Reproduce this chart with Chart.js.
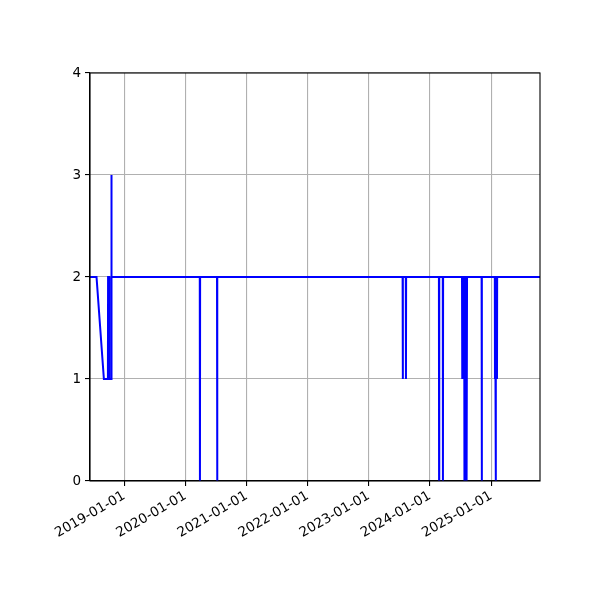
<!DOCTYPE html>
<html>
<head>
<meta charset="utf-8">
<script src="https://cdn.jsdelivr.net/npm/chart.js@4"></script>
<style>
html,body{margin:0;padding:0;background:#fff;}
#c{display:block;}
</style>
</head>
<body>
<canvas id="c" width="600" height="600"></canvas>
<script>
// ---- data ----
const dates = [
  '2018-06-10','2018-07-19','2018-09-01','2018-09-25','2018-09-26','2018-10-03','2018-10-04',
  '2018-10-15','2018-10-16','2018-10-17',
  '2020-03-27','2020-03-28','2020-03-29',
  '2020-07-08','2020-07-09','2020-07-10',
  '2023-07-22','2023-07-23','2023-07-24',
  '2023-08-10','2023-08-11','2023-08-12',
  '2024-02-24','2024-02-25','2024-02-26',
  '2024-03-18','2024-03-19','2024-03-20',
  '2024-07-11','2024-07-12','2024-07-13','2024-07-18','2024-07-19','2024-07-20',
  '2024-07-24','2024-07-25','2024-07-26','2024-07-30','2024-07-31','2024-08-01',
  '2024-08-05','2024-08-06','2024-08-07','2024-08-09','2024-08-10',
  '2024-11-05','2024-11-06','2024-11-07',
  '2025-01-23','2025-01-24','2025-01-25','2025-01-28','2025-01-29','2025-01-30',
  '2025-02-04','2025-02-05','2025-02-06',
  '2025-10-20'
];
const values = [
  2,2,1,1,2,2,1,
  1,3,2,
  2,0,2,
  2,0,2,
  2,1,2,
  2,1,2,
  2,0,2,
  2,0,2,
  2,1,2,2,1,2,
  2,0,2,2,0,2,
  2,0,2,0,2,
  2,0,2,
  2,1,2,2,0,2,
  2,1,2,
  2
];
const xTickLabels = ['2019-01-01','2020-01-01','2021-01-01','2022-01-01','2023-01-01','2024-01-01','2025-01-01'];
const yTicks = [0,1,2,3,4];

// ---- helpers ----
const toMs = s => Date.parse(s + 'T00:00:00Z');
const points = dates.map((d, i) => ({x: toMs(d), y: values[i]}));
const fmt = ms => new Date(ms).toISOString().slice(0, 10);

const framePlugin = {
  id: 'frame',
  afterDraw(chart) {
    const a = chart.chartArea, ctx = chart.ctx;
    ctx.save();
    ctx.strokeStyle = '#000';
    ctx.lineWidth = 1.1;
    ctx.strokeRect(a.left, a.top, a.right - a.left, a.bottom - a.top);
    ctx.restore();
  }
};

const font = {family: '"DejaVu Sans", sans-serif', size: 13.5};

new Chart(document.getElementById('c'), {
  type: 'line',
  data: {
    datasets: [{
      data: points,
      borderColor: '#0000ff',
      borderWidth: 2,
      pointRadius: 0,
      tension: 0,
      fill: false
    }]
  },
  options: {
    responsive: false,
    animation: false,
    devicePixelRatio: 1,
    layout: {padding: {left: 0, top: 73, right: 60, bottom: 0}},
    plugins: {legend: {display: false}, tooltip: {enabled: false}},
    scales: {
      x: {
        type: 'linear',
        min: toMs(dates[0]),
        max: toMs(dates[dates.length - 1]),
        afterBuildTicks: s => { s.ticks = xTickLabels.map(l => ({value: toMs(l)})); },
        afterFit: s => { s.height = 119; },
        ticks: {
          callback: v => fmt(v),
          minRotation: 30, maxRotation: 30,
          autoSkip: false,
          color: '#000', font: font, padding: 2
        },
        grid: {color: '#b0b0b0', lineWidth: 1.1, tickColor: '#000', tickLength: 5, drawTicks: true},
        border: {display: true, color: '#000', width: 1.1}
      },
      y: {
        type: 'linear',
        min: 0, max: 4,
        afterBuildTicks: s => { s.ticks = yTicks.map(v => ({value: v})); },
        afterFit: s => { s.width = 90; },
        ticks: {color: '#000', font: font, padding: 4},
        grid: {color: '#b0b0b0', lineWidth: 1.1, tickColor: '#000', tickLength: 5, drawTicks: true},
        border: {display: true, color: '#000', width: 1.1}
      }
    }
  },
  plugins: [framePlugin]
});
</script>
</body>
</html>
